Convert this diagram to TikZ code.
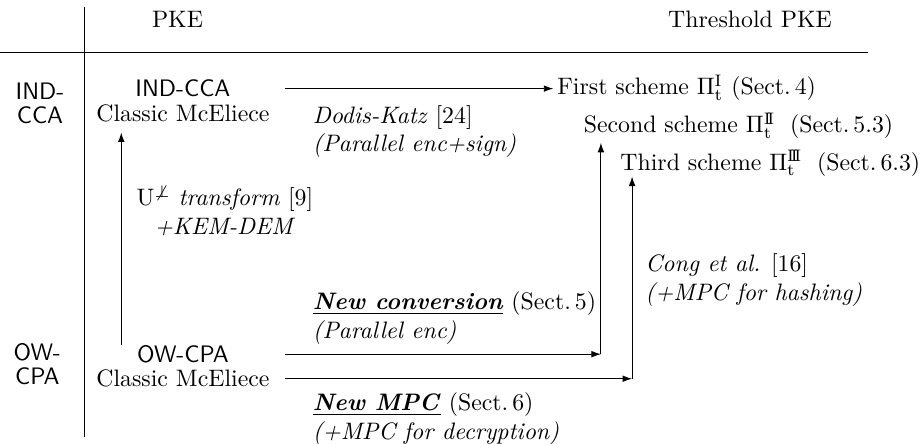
\documentclass[tikz,border=0pt]{standalone}
\usetikzlibrary{arrows.meta, positioning}

\begin{document}
\begin{tikzpicture}[
  txt/.style={inner sep=0pt},
  sec/.style={font=\sffamily, inner sep=0pt},
  lbl/.style={inner sep=0pt, align=left},
  arr/.style={-{Latex[length=4pt, width=2.8pt]}}
]
\useasboundingbox (0,0) rectangle (13.58,6.54);

% table rules
\draw (1.25,0.09) -- (1.25,6.44);
\draw (0,5.77) -- (12.81,5.77);

\node[txt, anchor=base] (pke) at (2.62,6.13) {PKE};
\node[txt, anchor=base] (tpke) at (11.07,6.13) {Threshold PKE};

% security notions
\node[sec, align=center] (rcca) at (0.59,5.01) {IND-\\[-2pt]CCA};
\node[sec, align=center] (rcpa) at (0.55,1.16) {OW-\\[-2pt]CPA};

% plain schemes
\node[sec, anchor=base] (ccahead) at (2.70,5.11) {IND-CCA};
\node[txt, anchor=base] (ccaname) at (2.70,4.74) {Classic McEliece};
\node[sec, anchor=base] (cpahead) at (2.70,1.19) {OW-CPA};
\node[txt, anchor=base] (cpaname) at (2.70,0.83) {Classic McEliece};

% threshold schemes
\node[txt, anchor=base west] (first) at (8.22,5.14)
  {First scheme $\Pi_{\mathrm{t}}^{\mathrm{I}}$ (Sect.\,4)};
\node[txt, anchor=base west] (second) at (8.61,4.58)
  {Second scheme $\Pi_{\mathrm{t}}^{\mathrm{I\!I}}$\; (Sect.\,5.3)};
\node[txt, anchor=base west] (third) at (9.15,4.03)
  {Third scheme $\Pi_{\mathrm{t}}^{\mathrm{I\!I\!I}}$\; (Sect.\,6.3)};

% x positions of the vertical arrows
\coordinate (u) at (1.79,0);
\coordinate (j2) at (8.87,0);
\coordinate (j3) at (9.33,0);

\draw[arr, shorten >=4pt] (u |- cpahead.north) -- (u |- ccaname.south);
\draw[arr, shorten <=6.5pt, shorten >=1.5pt] (ccaname.east |- ccahead) -- (first.west |- ccahead);
\draw[arr, shorten <=6.5pt] (cpaname.east |- cpahead) -- (j2 |- cpahead);
\draw[arr, shorten <=6.5pt] (cpaname.east |- cpaname) -- (j3 |- cpaname);
\draw[arr, shorten >=1.5pt] (j2 |- cpahead) -- (j2 |- second.south);
\draw[arr] (j3 |- cpaname) -- (j3 |- third.south);

% transformation labels (base = last line)
\node[lbl, align=center, anchor=base] (fo) at (3.32,3.08)
  {$\mathrm{U}^{\not\perp}$ \textit{transform} [9]\\\textit{+KEM-DEM}};
\node[lbl, anchor=base west] (dk) at (4.61,4.30)
  {\textit{Dodis-Katz} [24]\\\textit{(Parallel enc+sign)}};
\node[lbl, anchor=base west] (nc) at (4.61,1.55)
  {\underline{\textbf{\textit{New conversion}}} (Sect.\,5)\\\textit{(Parallel enc)}};
\node[lbl, anchor=base west] (nm) at (4.61,0.06)
  {\underline{\textbf{\textit{New MPC}}} (Sect.\,6)\\\textit{(+MPC for decryption)}};
\node[lbl, anchor=base west] (cg) at (9.52,2.11)
  {\textit{Cong et al.} [16]\\\textit{(+MPC for hashing)}};

\end{tikzpicture}
\end{document}
